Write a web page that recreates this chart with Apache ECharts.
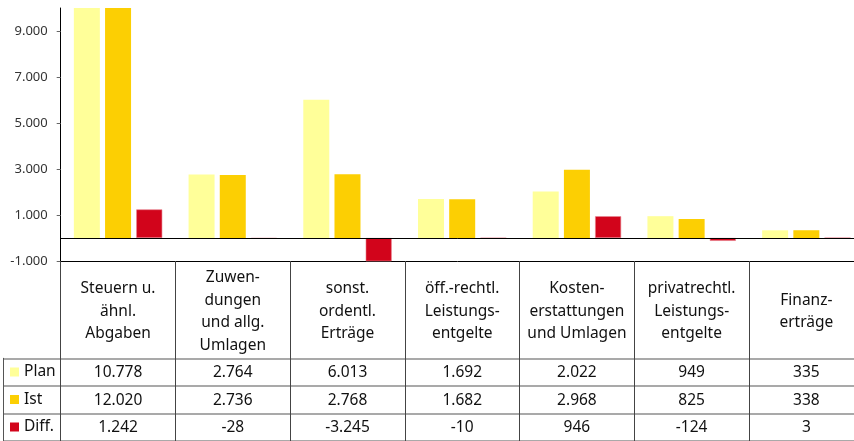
<!DOCTYPE html>
<html>
<head>
<meta charset="utf-8">
<script src="https://cdn.jsdelivr.net/npm/echarts@6/dist/echarts.min.js"></script>
<style>
  html, body { margin: 0; padding: 0; background: #fff; }
  #chart { width: 854px; height: 441px; }
</style>
</head>
<body>
<div id="chart"></div>
<script>
// ---- data ----
const categories = [
  "Steuern u.\nähnl.\nAbgaben",
  "Zuwen-\ndungen\nund allg.\nUmlagen",
  "sonst.\nordentl.\nErträge",
  "öff.-rechtl.\nLeistungs-\nentgelte",
  "Kosten-\nerstattungen\nund Umlagen",
  "privatrechtl.\nLeistungs-\nentgelte",
  "Finanz-\nerträge"
];
const seriesNames = ["Plan", "Ist", "Diff."];
const planValues = [10778, 2764, 6013, 1692, 2022, 949, 335];
const istValues  = [12020, 2736, 2768, 1682, 2968, 825, 338];
const diffValues = [1242, -28, -3245, -10, 946, -124, 3];
const rowNames = ["Plan", "Ist", "Diff."];
const yTickValues = [-1000, 1000, 3000, 5000, 7000, 9000];

const FONT = "'Noto Sans', 'Open Sans', sans-serif";

function fmt(v) {
  const neg = v < 0;
  let s = String(Math.abs(Math.round(v)));
  s = s.replace(/\B(?=(\d{3})+(?!\d))/g, ".");
  return (neg ? "-" : "") + s;
}

const chart = echarts.init(document.getElementById("chart"), null, { renderer: "canvas" });

function tableAxis(values, offset) {
  return {
    type: "category",
    gridIndex: 0,
    data: categories,
    position: "bottom",
    offset: offset,
    axisLine: { show: false },
    axisTick: { show: false },
    splitLine: { show: false },
    axisLabel: {
      interval: 0,
      margin: 0,
      verticalAlign: "middle",
      fontFamily: FONT,
      fontSize: 15.5,
      color: "#111",
      formatter: function (val, idx) { return fmt(values[idx]); }
    }
  };
}

const option = {
  animation: false,
  backgroundColor: "#ffffff",
  textStyle: { fontFamily: FONT },
  legend: {
    orient: "vertical",
    left: 10,
    top: 362,
    padding: 0,
    itemWidth: 9,
    itemHeight: 9,
    itemGap: 7.5,
    icon: "rect",
    selectedMode: false,
    data: seriesNames,
    itemStyle: { borderWidth: 0 },
    textStyle: { fontFamily: FONT, fontSize: 15.5, lineHeight: 20, color: "#111" }
  },
  grid: [
    { left: 60.7, top: 8, right: -9.7, height: 253, containLabel: false, outerBoundsMode: "none" },
    { left: 3.3, top: 358.3, right: -9.7, height: 82.7, containLabel: false, outerBoundsMode: "none" }
  ],
  xAxis: [
    {
      type: "category",
      gridIndex: 0,
      data: categories,
      position: "bottom",
      axisLine: { onZero: false, lineStyle: { color: "#000", width: 1 } },
      axisTick: { show: true, interval: 0, length: 181, lineStyle: { color: "#444", width: 1 } },
      axisLabel: {
        interval: 0,
        margin: 50.5,
        verticalAlign: "middle",
        fontFamily: FONT,
        fontSize: 15.5,
        lineHeight: 22.5,
        color: "#111",
        align: "center"
      },
      splitLine: { show: false }
    },
    tableAxis(planValues, 112),
    tableAxis(istValues, 139.5),
    tableAxis(diffValues, 167),
    { type: "value", gridIndex: 1, show: false, min: 0, max: 1 }
  ],
  yAxis: [
    {
      type: "value",
      gridIndex: 0,
      min: -1000,
      max: 10000,
      interval: 2000,
      axisLine: { show: true, lineStyle: { color: "#000", width: 1 } },
      axisTick: { show: true, length: 4, customValues: yTickValues, lineStyle: { color: "#666", width: 1 } },
      splitLine: { show: false },
      axisLabel: {
        customValues: yTickValues,
        margin: 13,
        fontFamily: FONT,
        fontSize: 13,
        color: "#333",
        formatter: function (v) { return fmt(v); }
      }
    },
    {
      type: "category",
      gridIndex: 1,
      data: rowNames,
      inverse: true,
      axisLine: { show: true, lineStyle: { color: "#555", width: 1 } },
      axisTick: { show: false },
      axisLabel: { show: false },
      splitLine: { show: true, interval: 0, lineStyle: { color: "#8c8c8c", width: 1.5 } }
    }
  ],
  series: [
    {
      name: seriesNames[0],
      type: "bar",
      xAxisIndex: 0, yAxisIndex: 0,
      data: planValues,
      barWidth: 26,
      barGap: "20%",
      itemStyle: { color: "#FFFF99" }
    },
    {
      name: seriesNames[1],
      type: "bar",
      xAxisIndex: 0, yAxisIndex: 0,
      data: istValues,
      barWidth: 26,
      barGap: "20%",
      itemStyle: { color: "#FCCF03" }
    },
    {
      name: seriesNames[2],
      type: "bar",
      xAxisIndex: 0, yAxisIndex: 0,
      data: diffValues,
      barWidth: 26,
      barGap: "20%",
      itemStyle: { color: "#D2041B", borderColor: "#E8808C", borderWidth: 0.6 },
      markLine: {
        silent: true,
        symbol: "none",
        label: { show: false },
        lineStyle: { color: "#000", width: 1, type: "solid" },
        data: [{ yAxis: 0 }]
      }
    }
  ]
};

chart.setOption(option);
</script>
</body>
</html>
